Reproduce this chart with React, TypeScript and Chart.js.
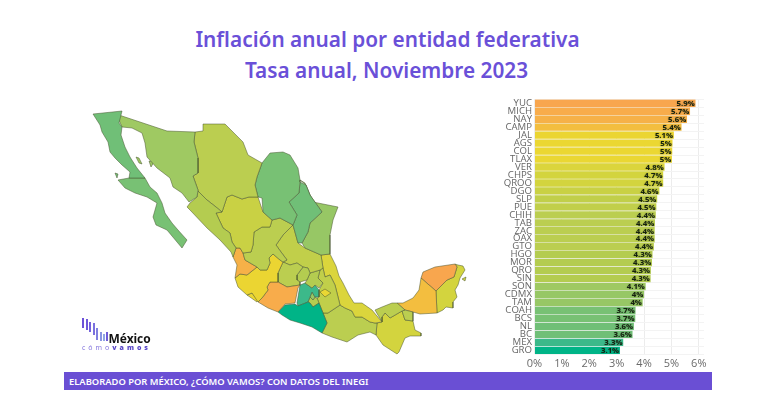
import React, { useEffect, useRef } from "react";
import { Chart, registerables } from "chart.js";

Chart.register(...registerables);

const estados = ["YUC","MICH","NAY","CAMP","JAL","AGS","COL","TLAX","VER","CHPS","QROO","DGO","SLP","PUE","CHIH","TAB","ZAC","OAX","GTO","HGO","MOR","QRO","SIN","SON","CDMX","TAM","COAH","BCS","NL","BC","MEX","GRO"];
const tasas = [5.88,5.68,5.57,5.37,5.09,5.04,5.03,5.02,4.75,4.7,4.7,4.56,4.48,4.45,4.43,4.4,4.39,4.39,4.36,4.31,4.29,4.25,4.24,4.06,4.0,3.95,3.69,3.68,3.63,3.58,3.24,3.12];
const etiquetas = ["5.9%","5.7%","5.6%","5.4%","5.1%","5%","5%","5%","4.8%","4.7%","4.7%","4.6%","4.5%","4.5%","4.4%","4.4%","4.4%","4.4%","4.4%","4.3%","4.3%","4.3%","4.3%","4.1%","4%","4%","3.7%","3.7%","3.6%","3.6%","3.3%","3.1%"];
const colores = ["#F8A64E","#F8AC4B","#F6B148","#F3BE3F","#EBD532","#EBD732","#EBD732","#EAD733","#DBD53C","#D3D43E","#D3D43E","#C9D144","#C1CF4A","#C1CF4A","#BBCE50","#BBCE50","#BBCE50","#BBCE50","#BBCE50","#B4CC50","#B4CC50","#B4CC50","#B4CC50","#9FC962","#97C765","#97C765","#78C174","#78C174","#70BF77","#70BF77","#3CB98A","#00B487"];
const ticksEje = [0,1,2,3,4,5,6];

// Contornos de los estados, en unidades del mapa
const contornos: Record<string, number[][][]> = {
  BC: [[[93,114],[122,111],[119,123],[122,127],[121,135],[125,147],[130,157],[137,168],[145,178],[129,178],[130,172],[122,165],[115,158],[110,152],[108,142],[102,132],[100,125]],[[115,173],[118,174],[117,178]]],
  BCS: [[[129,178],[145,178],[150,187],[157,193],[162,203],[165,213],[172,223],[178,230],[187,240],[182,248],[177,242],[167,230],[156,225],[153,217],[157,203],[147,197],[135,193],[125,188],[118,180]]],
  SON: [[[119,115],[167,131],[195,132],[194,142],[198,158],[198,173],[193,176],[198,190],[197,197],[189,202],[182,193],[173,187],[170,178],[157,168],[147,157],[145,143],[142,133],[132,128],[122,127],[119,120]],[[149,161],[154,162],[151,167]],[[136,157],[139,158],[142,164],[139,163]]],
  SIN: [[[198,191],[207,200],[216,207],[222,212],[216,213],[223,228],[230,233],[232,242],[236,248],[233,257],[231,252],[220,240],[207,228],[190,210],[187,207],[190,203],[197,197]]],
  CHIH: [[[195,132],[203,131],[203,124],[225,124],[233,132],[243,142],[248,155],[262,163],[257,177],[255,185],[258,197],[249,197],[242,199],[232,195],[227,197],[222,212],[216,207],[207,200],[198,191],[198,190],[193,176],[198,173],[198,158],[194,142]]],
  COAH: [[[262,163],[270,153],[283,152],[290,155],[298,168],[300,180],[300,182],[299,193],[289,202],[297,215],[293,225],[280,218],[272,220],[263,212],[262,198],[258,197],[255,185],[257,177]]],
  NL: [[[300,182],[306,185],[310,195],[322,212],[310,223],[308,232],[302,243],[298,243],[293,225],[297,215],[289,202],[299,193]]],
  TAM: [[[300,180],[305,183],[313,202],[338,207],[333,220],[330,235],[330,254],[321,255],[305,248],[302,243],[308,232],[310,223],[322,212],[310,195],[306,185]]],
  DGO: [[[227,197],[232,195],[242,199],[249,197],[258,197],[263,212],[272,220],[270,227],[262,227],[254,232],[253,245],[251,252],[243,253],[240,248],[236,248],[232,242],[230,233],[223,228],[216,213],[222,212]]],
  ZAC: [[[272,220],[280,218],[293,225],[283,235],[276,245],[281,252],[287,260],[283,262],[280,260],[273,254],[269,258],[270,263],[267,270],[260,270],[257,267],[245,260],[243,253],[251,252],[253,245],[254,232],[262,227],[270,227]]],
  NAY: [[[236,248],[240,248],[243,253],[245,260],[257,267],[247,275],[240,274],[235,278],[237,265],[233,257]]],
  AGS: [[[251,252],[255,250],[257,255],[265,257],[258,265],[253,262]]],
  JAL: [[[235,278],[240,274],[247,275],[257,267],[260,270],[267,270],[270,263],[269,258],[273,254],[280,260],[283,262],[278,273],[278,282],[270,282],[267,287],[268,290],[262,298],[258,302],[252,293],[247,295],[238,287]]],
  COL: [[[247,295],[252,293],[258,300],[257,302]]],
  MICH: [[[258,302],[262,298],[268,290],[267,287],[270,282],[278,282],[287,287],[300,285],[298,288],[295,303],[285,304],[278,312],[268,308]]],
  GRO: [[[278,312],[285,305],[295,304],[298,306],[308,302],[310,303],[313,307],[319,303],[323,313],[325,318],[327,323],[322,333],[312,327],[300,323],[290,320],[282,315]]],
  GTO: [[[283,262],[290,265],[297,263],[303,267],[297,275],[297,280],[300,282],[300,285],[287,287],[278,282],[278,273]]],
  QRO: [[[297,275],[303,267],[308,268],[310,273],[307,280],[300,282],[297,280]]],
  SLP: [[[293,225],[298,243],[305,248],[321,255],[323,268],[320,270],[310,273],[308,268],[303,267],[297,263],[290,265],[283,262],[287,260],[281,252],[276,245],[283,235]]],
  HGO: [[[307,280],[310,273],[320,270],[318,278],[323,283],[319,288],[315,285],[312,288],[305,283]]],
  MEX: [[[300,285],[305,283],[312,288],[315,285],[319,290],[319,297],[315,297],[312,292],[310,297],[308,302],[298,306],[297,303],[298,297]]],
  CDMX: [[[312,292],[315,297],[313,300],[310,297]]],
  MOR: [[[310,297],[313,300],[315,297],[317,298],[319,303],[313,307],[310,303],[308,302]]],
  TLAX: [[[320,292],[325,289],[331,293],[325,297]]],
  PUE: [[[320,270],[323,268],[325,277],[330,275],[335,285],[338,297],[340,305],[328,313],[323,313],[319,303],[317,298],[319,297],[319,290],[323,283],[318,278]]],
  VER: [[[321,255],[330,254],[336,266],[339,276],[343,283],[349,295],[354,303],[362,303],[372,310],[382,322],[375,323],[370,322],[362,317],[355,317],[352,311],[345,308],[340,305],[338,297],[335,285],[330,275],[325,277],[323,268]]],
  OAX: [[[322,333],[327,323],[325,318],[323,313],[328,313],[340,305],[345,308],[352,311],[355,317],[362,317],[370,322],[375,323],[377,323],[376,335],[370,332],[358,335],[347,342],[332,337]]],
  TAB: [[[375,310],[382,307],[392,303],[397,303],[405,310],[402,311],[390,318],[385,313],[382,317],[382,322]],[[405,310],[413,312],[413,321],[405,320],[402,311]]],
  CHPS: [[[402,311],[405,320],[413,321],[415,330],[421,333],[421,336],[410,336],[405,338],[399,352],[397,354],[383,345],[376,335],[377,323],[382,322],[382,317],[385,313],[390,318]]],
  CAMP: [[[421,278],[436,291],[437,313],[420,314],[413,312],[405,310],[397,303],[403,303],[413,298],[419,290]]],
  YUC: [[[421,278],[423,272],[435,267],[455,264],[457,267],[454,277],[447,280],[436,291]]],
  QROO: [[[455,264],[458,265],[463,266],[465,270],[460,278],[458,285],[455,290],[457,297],[453,302],[453,308],[446,307],[443,310],[437,313],[436,291],[447,280],[454,277],[457,267]],[[462,279],[466,277],[465,281]]],
};

const tramos = Object.keys(contornos).flatMap((clave) =>
  contornos[clave].map((puntos) => ({ clave, puntos }))
);

const barrasLogo = [
  [82, 318, 328, "#6d52d8"],[85.5, 319, 330, "#6f58da"],[89, 322, 332, "#7461dc"],[92.5, 323, 335, "#7a70de"],
  [96, 328, 340, "#8080e0"],[99.5, 332, 341, "#8a96e2"],[103, 334, 341, "#90a6e4"],[106, 332, 341, "#6f5cd8"],
] as const;

const etiquetasBarras = {
  id: "etiquetasBarras",
  afterDatasetsDraw(chart: Chart) {
    const { ctx } = chart;
    ctx.save();
    ctx.font = "700 7.8px 'Open Sans'";
    ctx.fillStyle = "#14200e";
    ctx.shadowColor = "rgba(20,30,10,0.45)";
    ctx.shadowBlur = 1.5;
    ctx.textAlign = "right";
    ctx.textBaseline = "middle";
    chart.getDatasetMeta(0).data.forEach((barra: any, i: number) => {
      ctx.fillText(etiquetas[i], barra.x - 0.8, barra.y + 0.5);
    });
    ctx.restore();
  },
};

export default function App() {
  const mapaRef = useRef<HTMLCanvasElement>(null);
  const barrasRef = useRef<HTMLCanvasElement>(null);

  useEffect(() => {
    const mapa = new Chart(mapaRef.current!, {
      type: "scatter",
      data: {
        datasets: tramos.map(({ clave, puntos }) => ({
          label: clave,
          data: [...puntos, puntos[0]].map(([x, y]) => ({ x, y })),
          showLine: true,
          tension: 0,
          fill: "shape",
          pointRadius: 0,
          borderWidth: 0.7,
          borderColor: "rgba(70,82,45,0.7)",
          backgroundColor: colores[estados.indexOf(clave)],
        })),
      },
      options: {
        animation: false,
        responsive: false,
        events: [],
        layout: { padding: 0 },
        plugins: { legend: { display: false }, tooltip: { enabled: false } },
        scales: {
          x: { type: "linear", display: false, min: 0, max: 500 },
          y: { type: "linear", display: false, min: 0, max: 400, reverse: true },
        },
      },
    } as any);

    const barras = new Chart(barrasRef.current!, {
      type: "bar",
      data: {
        labels: estados,
        datasets: [{ data: tasas, backgroundColor: colores, barPercentage: 0.92, categoryPercentage: 1, borderWidth: 0 }],
      },
      options: {
        indexAxis: "y",
        animation: false,
        responsive: false,
        events: [],
        layout: { padding: { top: 9.3, right: 16, bottom: 0, left: 0 } },
        plugins: { legend: { display: false }, tooltip: { enabled: false } },
        scales: {
          x: {
            min: 0,
            max: 6.19,
            afterBuildTicks: (eje: any) => { eje.ticks = ticksEje.map((value) => ({ value })); },
            afterFit: (eje: any) => { eje.height = 20.7; },
            grid: { color: "#ececec", lineWidth: 1, drawTicks: false },
            border: { display: false },
            ticks: { callback: (v: any) => `${v}%`, font: { family: "'Open Sans'", size: 11 }, color: "#6a6a6a", padding: 3, maxRotation: 0 },
          },
          y: {
            afterFit: (eje: any) => { eje.width = 44.5; },
            grid: { color: "#f3f3f3", lineWidth: 1, drawTicks: false },
            border: { display: false },
            ticks: { autoSkip: false, font: { family: "'Open Sans'", size: 9.6 }, color: "#666666", padding: 2.5 },
          },
        },
      },
      plugins: [etiquetasBarras],
    } as any);

    return () => { mapa.destroy(); barras.destroy(); };
  }, []);

  const titulo: React.CSSProperties = { position: "absolute", width: 763, textAlign: "center", color: "#6a50d8", font: "600 20.8px 'Noto Sans'", lineHeight: "28px", whiteSpace: "nowrap" };

  return (
    <div style={{ position: "fixed", left: 0, top: 0, width: 763, height: 416, background: "#fff", overflow: "hidden" }}>
      <div style={{ ...titulo, left: 6, top: 25 }}>Inflación anual por entidad federativa</div>
      <div style={{ ...titulo, left: 5, top: 56 }}>Tasa anual, Noviembre 2023</div>
      <canvas ref={mapaRef} width={500} height={400} style={{ position: "absolute", left: 0, top: 0 }} />
      <canvas ref={barrasRef} width={230} height={285} style={{ position: "absolute", left: 490, top: 90 }} />
      {barrasLogo.map(([x, a, b, c], i) => (
        <div key={i} style={{ position: "absolute", left: x, top: a, width: 2.2, height: b - a, background: c }} />
      ))}
      <div style={{ position: "absolute", left: 108.5, top: 330, font: "700 12px 'Open Sans'", color: "#111", letterSpacing: -0.1 }}>México</div>
      <div style={{ position: "absolute", left: 82, top: 343, font: "400 7px 'Open Sans'", color: "#7f6fdc", letterSpacing: 3, whiteSpace: "nowrap" }}>cómo<span style={{ fontWeight: 800, color: "#5a48c8" }}>vamos</span></div>
      <div style={{ position: "absolute", left: 64, top: 372, width: 648, height: 18, background: "#6a4fd4" }} />
      <div style={{ position: "absolute", left: 69, top: 375, height: 14, lineHeight: "14px", color: "#fff", font: "600 9.4px 'Noto Sans'", whiteSpace: "nowrap" }}>ELABORADO POR MÉXICO, ¿CÓMO VAMOS? CON DATOS DEL INEGI</div>
    </div>
  );
}
